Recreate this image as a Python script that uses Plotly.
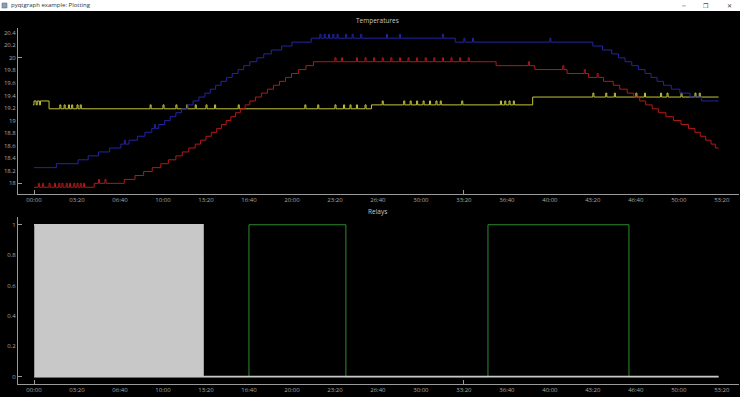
import plotly.graph_objects as go

# ---------------- data ----------------
Q = 0.0625  # sensor quantum (deg C)

# temperature change points (seconds, deg C)
blue_times = [0, 104, 205, 252, 300, 352, 404, 442, 481, 516, 548, 580, 608, 634, 660, 686, 713, 740,
              767, 795, 820, 845, 870, 895, 922, 949, 976, 1004, 1037, 1069, 1104, 1152, 1200, 1290,
              1960, 2600, 2645, 2688, 2719, 2750, 2781, 2812, 2843, 2871, 2899, 2929, 2965, 3005,
              3052, 3105, 3160]
blue_vals = [18.25, 18.3125, 18.375, 18.4375, 18.5, 18.5625, 18.625, 18.6875, 18.75, 18.8125, 18.875,
             18.9375, 19.0, 19.0625, 19.125, 19.1875, 19.25, 19.3125, 19.375, 19.4375, 19.5, 19.5625,
             19.625, 19.6875, 19.75, 19.8125, 19.875, 19.9375, 20.0, 20.0625, 20.125, 20.1875, 20.25,
             20.3125, 20.25, 20.1875, 20.125, 20.0625, 20.0, 19.9375, 19.875, 19.8125, 19.75, 19.6875,
             19.625, 19.5625, 19.5, 19.4375, 19.375, 19.3125, 19.3125]
blue_spikes = [(420, 1), (560, 1), (1330, 1), (1350, 1), (1370, 1), (1390, 1), (1410, 1), (1450, 1),
               (1480, 1), (1520, 1), (1640, 1), (1700, 1), (1900, 1), (2000, 1), (2040, 1), (2400, 1)]

red_times = [0, 280, 420, 470, 510, 550, 590, 625, 660, 690, 720, 750, 775, 800, 825, 850, 872, 894,
             916, 938, 960, 982, 1004, 1030, 1058, 1086, 1114, 1142, 1170, 1198, 1230, 1265, 1300,
             1345, 1400, 1470, 2150, 2330, 2480, 2580, 2650, 2695, 2725, 2760, 2790, 2818, 2846,
             2876, 2906, 2940, 2975, 3010, 3045, 3075, 3100, 3125, 3150, 3170]
red_vals = [17.9375, 18.0, 18.0625, 18.125, 18.1875, 18.25, 18.3125, 18.375, 18.4375, 18.5, 18.5625,
            18.625, 18.6875, 18.75, 18.8125, 18.875, 18.9375, 19.0, 19.0625, 19.125, 19.1875, 19.25,
            19.3125, 19.375, 19.4375, 19.5, 19.5625, 19.625, 19.6875, 19.75, 19.8125, 19.875, 19.9375,
            19.9375, 19.9375, 19.9375, 19.875, 19.8125, 19.75, 19.6875, 19.625, 19.5625, 19.5, 19.4375,
            19.375, 19.3125, 19.25, 19.1875, 19.125, 19.0625, 19.0, 18.9375, 18.875, 18.8125, 18.75,
            18.6875, 18.625, 18.5625]
red_spikes = [(20, 1), (40, 1), (70, 1), (95, 1), (115, 1), (130, 1), (150, 1), (165, 1), (185, 1),
              (200, 1), (215, 1), (230, 1), (300, 1), (330, 1), (1400, 1), (1430, 1), (1500, 1),
              (1540, 1), (1580, 1), (1620, 1), (1660, 1), (1700, 1), (1740, 1), (1780, 1), (1820, 1),
              (1860, 1), (1900, 1), (1940, 1), (1980, 1), (2020, 1), (2300, 1), (2460, 1), (2560, 1),
              (2620, 1)]

yellow_times = [0, 70, 1570, 2320]
yellow_vals = [19.3125, 19.1875, 19.25, 19.375]
yellow_spikes = [(-5, -1), (10, -1), (25, -1), (120, 1), (140, 1), (160, 1), (175, 1), (200, 1),
                 (215, 1), (540, 1), (600, 1), (660, 1), (710, 1), (750, 1), (800, 1), (840, 1),
                 (950, 1), (1260, 1), (1320, 1), (1400, 1), (1440, 1), (1470, 1), (1500, 1),
                 (1540, 1), (1620, 1), (1720, 1), (1750, 1), (1780, 1), (1810, 1), (1840, 1),
                 (1870, 1), (1890, 1), (1990, 1), (2170, 1), (2190, 1), (2210, 1), (2230, 1),
                 (2600, 1), (2660, 1), (2700, 1), (2800, 1), (2840, 1), (2915, 1), (2945, 1),
                 (3010, 1), (3075, 1), (3095, 1)]
end_time = 3185

# relay 1 (grey): switches at these times, starting ON at t=0
relay1_toggles = [0, 5, 11, 16, 22, 27, 33, 38, 44, 49, 55, 61, 66, 72, 77, 83, 88, 94, 99, 105,
                  111, 116, 122, 127, 133, 138, 144, 150, 155, 161, 166, 172, 177, 183, 189, 194, 200,
                  205, 211, 216, 222, 228, 233, 239, 244, 250, 255, 261, 267, 272, 278, 283, 289, 294,
                  300, 306, 311, 317, 322, 328, 333, 339, 345, 350, 356, 361, 367, 372, 378, 384, 389,
                  395, 400, 406, 411, 417, 423, 428, 434, 439, 445, 450, 456, 462, 467, 473, 478, 484,
                  489, 495, 501, 506, 512, 517, 523, 528, 534, 540, 545, 551, 556, 562, 567, 573, 579,
                  584, 590, 595, 601, 606, 612, 618, 623, 629, 634, 640, 645, 651, 657, 662, 668, 673,
                  679, 684, 690, 696, 701, 707, 712, 718, 723, 729, 735, 740, 746, 751, 757, 762, 768,
                  774, 779, 786]
# relay 2 (green)
relay2_times = [0, 1000, 1451, 2112, 2768, 3185]
relay2_vals = [0, 1, 0, 1, 0, 0]

x_tick_vals = [0, 200, 400, 600, 800, 1000, 1200, 1400, 1600, 1800, 2000, 2200, 2400, 2600, 2800,
               3000, 3200]
x_tick_text = ["00:00", "03:20", "06:40", "10:00", "13:20", "16:40", "20:00", "23:20", "26:40",
               "30:00", "33:20", "36:40", "40:00", "43:20", "46:40", "50:00", "53:20"]
temp_tick_vals = [18, 18.2, 18.4, 18.6, 18.8, 19, 19.2, 19.4, 19.6, 19.8, 20, 20.2, 20.4]
temp_tick_text = ["18", "18.2", "18.4", "18.6", "18.8", "19", "19.2", "19.4", "19.6", "19.8", "20",
                  "20.2", "20.4"]
relay_tick_vals = [0, 0.2, 0.4, 0.6, 0.8, 1]
relay_tick_text = ["0", "0.2", "0.4", "0.6", "0.8", "1"]


# ---------------- helpers ----------------
def level_at(times, vals, t):
    v = vals[0]
    for tt, vv in zip(times, vals):
        if tt <= t:
            v = vv
    return v


def build_series(times, vals, spikes, end, width=5):
    pts = [(t, v, 0) for t, v in zip(times, vals)]
    for s, d in spikes:
        pts.append((s, level_at(times, vals, s) + d * Q, 1))
        pts.append((s + width, level_at(times, vals, s + width), 2))
    pts.append((end, level_at(times, vals, end), 3))
    pts = [p for p in pts if p[0] <= end]
    pts.sort(key=lambda p: (p[0], p[2]))
    return [p[0] for p in pts], [p[1] for p in pts]


# ---------------- figure ----------------
fig = go.Figure()

bx, by = build_series(blue_times, blue_vals, blue_spikes, end_time)
rx, ry = build_series(red_times, red_vals, red_spikes, end_time)
yx, yy = build_series(yellow_times, yellow_vals, yellow_spikes, end_time)

fig.add_trace(go.Scatter(x=yx, y=yy, mode="lines", line=dict(color="#c4c43a", width=1, shape="hv"),
                         xaxis="x", yaxis="y"))
fig.add_trace(go.Scatter(x=rx, y=ry, mode="lines", line=dict(color="#b41818", width=1, shape="hv"),
                         xaxis="x", yaxis="y"))
fig.add_trace(go.Scatter(x=bx, y=by, mode="lines", line=dict(color="#2424a6", width=1, shape="hv"),
                         xaxis="x", yaxis="y"))

r1x = list(relay1_toggles) + [end_time]
r1y = [1 if i % 2 == 0 else 0 for i in range(len(relay1_toggles))] + [0]
fig.add_trace(go.Scatter(x=relay2_times, y=relay2_vals, mode="lines",
                         line=dict(color="#2e8b2e", width=1, shape="hv"), xaxis="x2", yaxis="y2"))
fig.add_trace(go.Scatter(x=r1x, y=r1y, mode="lines",
                         line=dict(color="#c8c8c8", width=1.7, shape="hv"), xaxis="x2", yaxis="y2"))

# empty traces to host the major-tick overlay axes
for xa, ya in [("x3", "y3"), ("x4", "y4")]:
    fig.add_trace(go.Scatter(x=[], y=[], xaxis=xa, yaxis=ya, showlegend=False))

AX = "#9a9a9a"
FONT = dict(family="Open Sans, DejaVu Sans, sans-serif", size=6, color="#a8a8a8")
XR = [-74.5, 3280]
TOP_D = [1 - 194 / 397, 1 - 28 / 397]
BOT_D = [1 - 384 / 397, 1 - 216.7 / 397]
XD = [18 / 740, 739 / 740]
YR1 = [17.83, 20.475]
YR2 = [-0.048, 1.053]

common_x = dict(range=XR, domain=XD, showgrid=False, zeroline=False, showline=True, linecolor=AX,
                linewidth=1, ticks="", tickvals=x_tick_vals, ticktext=x_tick_text, tickfont=FONT,
                fixedrange=True)
common_y = dict(showgrid=False, zeroline=False, showline=True, linecolor=AX, linewidth=1, ticks="",
                tickfont=FONT, fixedrange=True)

fig.update_layout(
    width=740, height=397, margin=dict(l=0, r=0, t=0, b=0),
    paper_bgcolor="black", plot_bgcolor="black", showlegend=False, hovermode=False,
    xaxis=dict(common_x, anchor="y"),
    yaxis=dict(common_y, range=YR1, domain=TOP_D, anchor="x", tickvals=temp_tick_vals,
               ticktext=temp_tick_text),
    xaxis2=dict(common_x, anchor="y2"),
    yaxis2=dict(common_y, range=YR2, domain=BOT_D, anchor="x2", tickvals=relay_tick_vals,
                ticktext=relay_tick_text),
    # major tick marks (inside) overlay
    xaxis3=dict(range=XR, domain=XD, overlaying="x", anchor="y3", side="bottom", showgrid=False,
                zeroline=False, showticklabels=False, ticks="inside", ticklen=4, tickcolor=AX,
                tickvals=[0, 2000], fixedrange=True),
    yaxis3=dict(range=YR1, domain=TOP_D, overlaying="y", anchor="x3", showgrid=False, zeroline=False,
                showticklabels=False, ticks="inside", ticklen=4, tickcolor=AX, tickvals=[18, 20],
                fixedrange=True),
    xaxis4=dict(range=XR, domain=XD, overlaying="x2", anchor="y4", side="bottom", showgrid=False,
                zeroline=False, showticklabels=False, ticks="inside", ticklen=4, tickcolor=AX,
                tickvals=[0, 2000], fixedrange=True),
    yaxis4=dict(range=YR2, domain=BOT_D, overlaying="y2", anchor="x4", showgrid=False, zeroline=False,
                showticklabels=False, ticks="inside", ticklen=4, tickcolor=AX, tickvals=[0, 1],
                fixedrange=True),
)

# window title bar
fig.add_shape(type="rect", xref="paper", yref="paper", x0=0, x1=1, y0=1 - 11 / 397, y1=1,
              fillcolor="white", line=dict(width=0), layer="above")
fig.add_shape(type="rect", xref="paper", yref="paper", x0=2 / 740, x1=7 / 740, y0=1 - 8 / 397,
              y1=1 - 3 / 397, fillcolor="#8aa0b8", line=dict(width=0.5, color="#506070"), layer="above")
fig.add_annotation(x=9 / 740, y=1 - 5.5 / 397, xref="paper", yref="paper", xanchor="left",
                   yanchor="middle", text="pyqtgraph example: Plotting", showarrow=False,
                   font=dict(family="Open Sans, DejaVu Sans, sans-serif", size=6, color="#333333"))
for xp, sym in [(683, "─"), (706, "❐"), (729, "✕")]:
    fig.add_annotation(x=xp / 740, y=1 - 5.5 / 397, xref="paper", yref="paper", xanchor="center",
                       yanchor="middle", text=sym, showarrow=False,
                       font=dict(family="DejaVu Sans", size=6, color="#444444"))

# plot titles
fig.add_annotation(x=377 / 740, y=1 - 21 / 397, xref="paper", yref="paper", text="Temperatures",
                   showarrow=False, xanchor="center", yanchor="middle",
                   font=dict(family="Open Sans, DejaVu Sans, sans-serif", size=6.5, color="#c8c8c8"))
fig.add_annotation(x=377 / 740, y=1 - 212 / 397, xref="paper", yref="paper", text="Relays",
                   showarrow=False, xanchor="center", yanchor="middle",
                   font=dict(family="Open Sans, DejaVu Sans, sans-serif", size=6.5, color="#c8c8c8"))

fig.write_html("out.html", config={"displayModeBar": False},
               post_script="document.body.style.margin='0';"
                           "document.body.style.background='black';"
                           "document.body.style.overflow='hidden';")
